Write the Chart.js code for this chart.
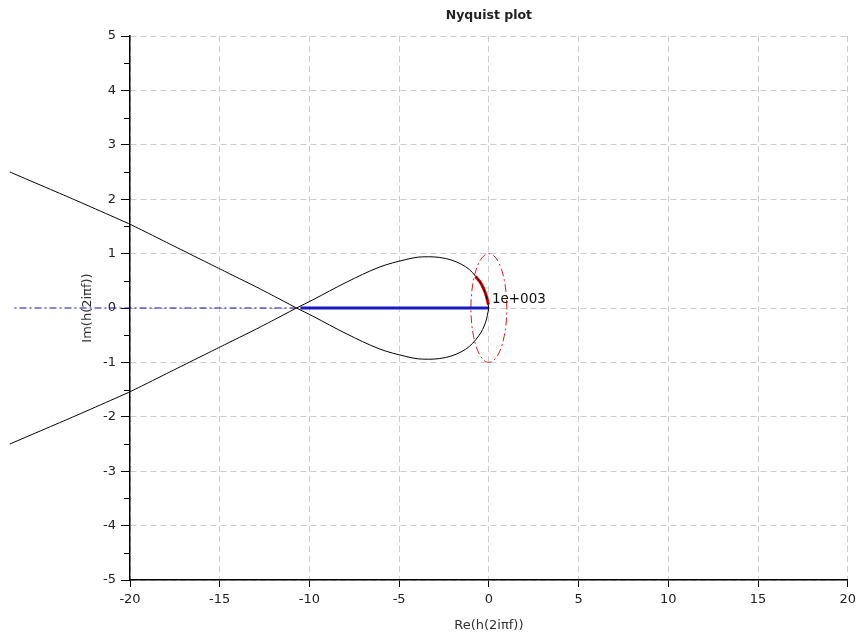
<!DOCTYPE html>
<html>
<head>
<meta charset="utf-8">
<script src="https://cdn.jsdelivr.net/npm/chart.js@4.4.0/dist/chart.umd.min.js"></script>
<style>
  html, body { margin: 0; padding: 0; background: #fff; }
  #wrap { width: 861px; height: 642px; }
</style>
</head>
<body>
<div id="wrap"><canvas id="nyq"></canvas></div>
<script>
// === data ===

// outer branches, listed right to left (they run past the left edge of the axes)
const outerX = [-10.72, -12.8, -15, -17.5, -20, -23.3, -26.7];
const outerUpperY = [0, 0.36, 0.72, 1.13, 1.54, 2.02, 2.50];
const outerLowerY = [0, -0.36, -0.72, -1.13, -1.54, -2.02, -2.50];

// the closed loop between the crossing and the origin
const loopX = [-10.72, -9.81, -7.96, -6.11, -4.63, -3.70, -2.41, -1.30, -0.56, -0.19, 0];
const loopUpperY = [0, 0.15, 0.47, 0.75, 0.89, 0.94, 0.91, 0.76, 0.51, 0.27, 0];
const loopLowerY = [0, -0.15, -0.47, -0.75, -0.89, -0.94, -0.91, -0.76, -0.51, -0.27, 0];

// blue real-axis segments
const axisDashX = [-10.72, -26.5];
const axisDashY = [0, 0];
const axisSolidX = [-10.5, 0];
const axisSolidY = [0, 0];

// red unit circle (dash-dot)
const circleX = [1, 0.966, 0.866, 0.707, 0.5, 0.259, 0, -0.259, -0.5, -0.707, -0.866, -0.966, -1,
  -0.966, -0.866, -0.707, -0.5, -0.259, 0, 0.259, 0.5, 0.707, 0.866, 0.966, 1];
const circleY = [0, 0.259, 0.5, 0.707, 0.866, 0.966, 1, 0.966, 0.866, 0.707, 0.5, 0.259, 0,
  -0.259, -0.5, -0.707, -0.866, -0.966, -1, -0.966, -0.866, -0.707, -0.5, -0.259, 0];

// thick red piece near the origin
const redX = [-0.02, -0.19, -0.45, -0.74];
const redY = [0.06, 0.27, 0.46, 0.58];

// frequency label
const freqLabel = "1e+003";
const freqLabelPos = [0.17, 0.15];

// axes
const X_MIN = -20, X_MAX = 20, X_STEP = 5;
const Y_MIN = -5, Y_MAX = 5, Y_STEP = 1;

const FONT = "'DejaVu Sans', sans-serif";

function pts(xs, ys) {
  return xs.map((x, i) => ({ x, y: ys[i] }));
}

function line(data, color, width, extra) {
  return Object.assign({
    data,
    borderColor: color,
    borderWidth: width,
    pointRadius: 0,
    showLine: true,
    fill: false,
    clip: false,
    tension: 0.35,
  }, extra || {});
}

// minor ticks on the y axis + the frequency label
const decorations = {
  id: "decorations",
  afterDraw(chart) {
    const { ctx, scales } = chart;
    const xs = scales.x, ys = scales.y;
    ctx.save();
    ctx.strokeStyle = "#000";
    ctx.lineWidth = 1;
    for (let v = Y_MIN + 0.5; v < Y_MAX; v += 1) {
      const py = Math.round(ys.getPixelForValue(v)) + 0.5;
      ctx.beginPath();
      ctx.moveTo(xs.left - 6, py);
      ctx.lineTo(xs.left, py);
      ctx.stroke();
    }
    ctx.fillStyle = "#111";
    ctx.font = "13.5px " + FONT;
    ctx.textAlign = "left";
    ctx.textBaseline = "middle";
    ctx.fillText(freqLabel, xs.getPixelForValue(freqLabelPos[0]), ys.getPixelForValue(freqLabelPos[1]));
    ctx.restore();
  },
};

new Chart(document.getElementById("nyq"), {
  type: "scatter",
  data: {
    datasets: [
      line(pts(outerX, outerUpperY), "#000", 1, { tension: 0.1 }),
      line(pts(outerX, outerLowerY), "#000", 1, { tension: 0.1 }),
      line(pts(loopX, loopUpperY), "#000", 1),
      line(pts(loopX, loopLowerY), "#000", 1),
      line(pts(axisDashX, axisDashY), "#1010a8", 1.2, { borderDash: [7, 3, 2, 3], tension: 0 }),
      line(pts(axisSolidX, axisSolidY), "#1a1ac4", 3, { tension: 0 }),
      line(pts(circleX, circleY), "#d42020", 1, { borderDash: [8, 3, 2, 3] }),
      line(pts(redX, redY), "#e60000", 3),
    ],
  },
  options: {
    responsive: true,
    maintainAspectRatio: false,
    animation: false,
    layout: { padding: { left: 0, right: 11, top: 0, bottom: 0 } },
    plugins: {
      legend: { display: false },
      tooltip: { enabled: false },
      title: {
        display: true,
        text: "Nyquist plot",
        fullSize: false,
        color: "#222",
        font: { family: FONT, size: 12.5, weight: "bold" },
        padding: { top: 8, bottom: 13 },
      },
    },
    scales: {
      x: {
        type: "linear",
        min: X_MIN,
        max: X_MAX,
        afterFit(scale) { scale.height = 62; },
        ticks: { stepSize: X_STEP, color: "#222", padding: 5, font: { family: FONT, size: 13 } },
        grid: { color: "#cccccc", lineWidth: 1, tickColor: "#000", tickLength: 7, tickBorderDash: [] },
        border: { display: true, color: "#000", width: 1.5, dash: [6, 4] },
        title: {
          display: true,
          text: "Re(h(2iπf))",
          color: "#333",
          font: { family: FONT, size: 13 },
          padding: { top: 0, bottom: 9 },
        },
      },
      y: {
        type: "linear",
        min: Y_MIN,
        max: Y_MAX,
        afterFit(scale) { scale.width = 130; },
        ticks: { stepSize: Y_STEP, color: "#222", padding: 5, font: { family: FONT, size: 13 } },
        grid: { color: "#cccccc", lineWidth: 1, tickColor: "#000", tickLength: 9, tickBorderDash: [] },
        border: { display: true, color: "#000", width: 1.5, dash: [6, 4] },
        title: {
          display: true,
          text: "Im(h(2iπf))",
          color: "#333",
          font: { family: FONT, size: 13 },
          padding: { top: 80, bottom: 0 },
        },
      },
    },
  },
  plugins: [decorations],
});
</script>
</body>
</html>
